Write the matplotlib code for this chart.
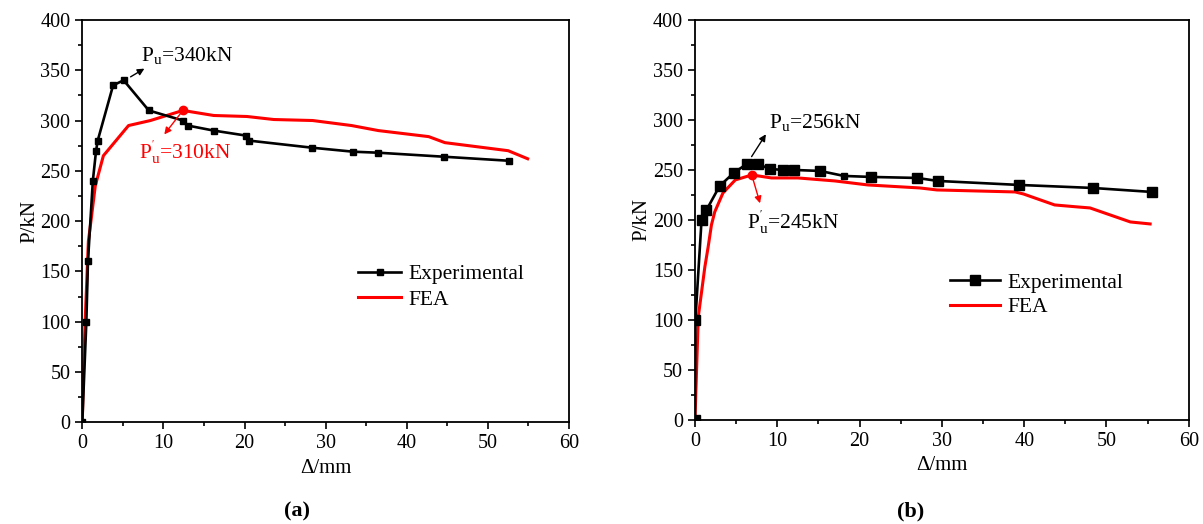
import matplotlib
matplotlib.use("Agg")
import matplotlib.pyplot as plt
from matplotlib.ticker import MultipleLocator

plt.rcParams['font.family'] = ['Liberation Serif', 'DejaVu Serif']
plt.rcParams['mathtext.fontset'] = 'custom'
plt.rcParams['mathtext.rm'] = 'Liberation Serif'
plt.rcParams['mathtext.it'] = 'Liberation Serif:italic'

# ---- specimen (a) ----
exp_a_x = [0, 0.5, 0.7, 1.3, 1.7, 1.9, 3.8, 5.1, 8.2, 12.4, 13.0, 16.2, 20.2, 20.6, 28.3, 33.4, 36.5, 44.6, 52.6]
exp_a_y = [0, 100, 160, 240, 270, 280, 335, 340, 310, 300, 295, 290, 285, 280, 273, 269, 268, 264, 260]
fea_a_x = [0, 0.15, 0.35, 0.75, 1.1, 1.6, 2.6, 5.7, 8.4, 12.4, 16.2, 20.3, 23.6, 28.4, 33.2, 36.5, 42.7, 44.7, 52.5, 54.9]
fea_a_y = [0, 50, 100, 180, 202, 235, 265, 295, 300, 310, 305, 304, 301, 300, 295, 290, 284, 278, 270, 262]
peak_exp_a = (5.1, 340)
peak_fea_a = (12.4, 310)

# ---- specimen (b) ----
exp_b_x = [0, 0.05, 0.8, 1.4, 3.0, 4.7, 6.3, 7.6, 9.1, 10.7, 12.0, 15.2, 18.1, 21.4, 27.0, 29.5, 39.4, 48.3, 55.5]
exp_b_y = [0, 100, 200, 210, 234, 247, 256, 256, 251, 250, 250, 249, 244, 243, 242, 239, 235, 232, 228]
fea_b_x = [0, 0.4, 1.2, 1.6, 2.0, 2.4, 3.4, 4.9, 6.9, 9.3, 12.5, 17.0, 21.0, 27.3, 29.4, 38.9, 39.9, 43.7, 46.5, 48.0, 52.9, 55.3]
fea_b_y = [0, 103, 153, 173, 195, 208, 227, 240, 245, 242, 242, 239, 235, 232, 230, 228, 226, 215, 213, 212, 198, 196]
peak_exp_b = (6.3, 256)
peak_fea_b = (6.9, 245)

x_ticks = [0, 10, 20, 30, 40, 50, 60]
y_ticks = [0, 50, 100, 150, 200, 250, 300, 350, 400]

fig = plt.figure(figsize=(12.03, 5.24), dpi=100)
ax_a = fig.add_axes([0.0684, 0.194, 0.4046, 0.768])
ax_b = fig.add_axes([0.5777, 0.1985, 0.4105, 0.7635])


def style_axes(ax):
    ax.set_xlim(0, 60)
    ax.set_ylim(0, 400)
    ax.set_xticks(x_ticks)
    ax.set_yticks(y_ticks)
    ax.xaxis.set_minor_locator(MultipleLocator(5))
    ax.yaxis.set_minor_locator(MultipleLocator(25))
    ax.tick_params(which='major', direction='out', length=5, width=1.2, labelsize=14.5)
    ax.tick_params(which='minor', direction='out', length=3, width=1.2)
    ax.tick_params(top=False, right=False)
    for s in ax.spines.values():
        s.set_linewidth(1.3)
    ax.set_xlabel('Δ/mm', fontsize=15, labelpad=4)
    ax.set_ylabel('P/kN', fontsize=15, labelpad=1)


# panel (a)
ax_a.plot(exp_a_x, exp_a_y, color='black', lw=1.9, marker='s', ms=4, label='Experimental', zorder=3)
ax_a.plot(fea_a_x, fea_a_y, color='red', lw=2.2, label='FEA', zorder=2)
ax_a.plot(*peak_fea_a, 'o', color='red', ms=6, zorder=4)
style_axes(ax_a)
ax_a.annotate('', xy=(7.95, 353), xytext=(5.66, 342),
              arrowprops=dict(arrowstyle='-|>', color='black', lw=1, mutation_scale=10))
ax_a.text(7.2, 365, r'P$_{\mathregular{u}}$=340kN', fontsize=15.5, va='center', ha='left', color='black')
ax_a.annotate('', xy=(9.9, 284), xytext=peak_fea_a,
              arrowprops=dict(arrowstyle='-|>', color='red', lw=1, mutation_scale=10))
ax_a.text(7.0, 268, r"P$_{\mathregular{u}}^{\mathregular{'}}$=310kN", fontsize=15.5, va='center', ha='left', color='red')
ax_a.legend(loc='upper left', bbox_to_anchor=(0.545, 0.42), frameon=False, fontsize=15.5,
            handlelength=2.0, handletextpad=0.35, labelspacing=0.25, borderpad=0)
fig.text(0.2465, 0.024, '(a)', fontsize=16, fontweight='bold', ha='center', va='center')

# panel (b)
ax_b.plot(exp_b_x, exp_b_y, color='black', lw=1.9, marker='s', ms=7, label='Experimental', zorder=3,
          markevery=[i for i in range(len(exp_b_x)) if i != 12])
ax_b.plot([exp_b_x[12]], [exp_b_y[12]], 's', color='black', ms=4, zorder=3)
ax_b.plot(fea_b_x, fea_b_y, color='red', lw=2.2, label='FEA', zorder=2)
ax_b.plot(*peak_fea_b, 'o', color='red', ms=6, zorder=4)
style_axes(ax_b)
ax_b.annotate('', xy=(8.8, 288), xytext=(6.7, 261),
              arrowprops=dict(arrowstyle='-|>', color='black', lw=1, mutation_scale=10))
ax_b.text(9.0, 297, r'P$_{\mathregular{u}}$=256kN', fontsize=15.5, va='center', ha='left', color='black')
ax_b.annotate('', xy=(8.0, 214), xytext=peak_fea_b,
              arrowprops=dict(arrowstyle='-|>', color='red', lw=1, mutation_scale=10))
ax_b.text(6.3, 197, r"P$_{\mathregular{u}}^{\mathregular{'}}$=245kN", fontsize=15.5, va='center', ha='left', color='black')
ax_b.legend(loc='upper left', bbox_to_anchor=(0.495, 0.395), frameon=False, fontsize=15.5,
            handlelength=2.3, handletextpad=0.35, labelspacing=0.2, borderpad=0)
fig.text(0.757, 0.024, '(b)', fontsize=16, fontweight='bold', ha='center', va='center')

fig.savefig('out.png', dpi=100)
